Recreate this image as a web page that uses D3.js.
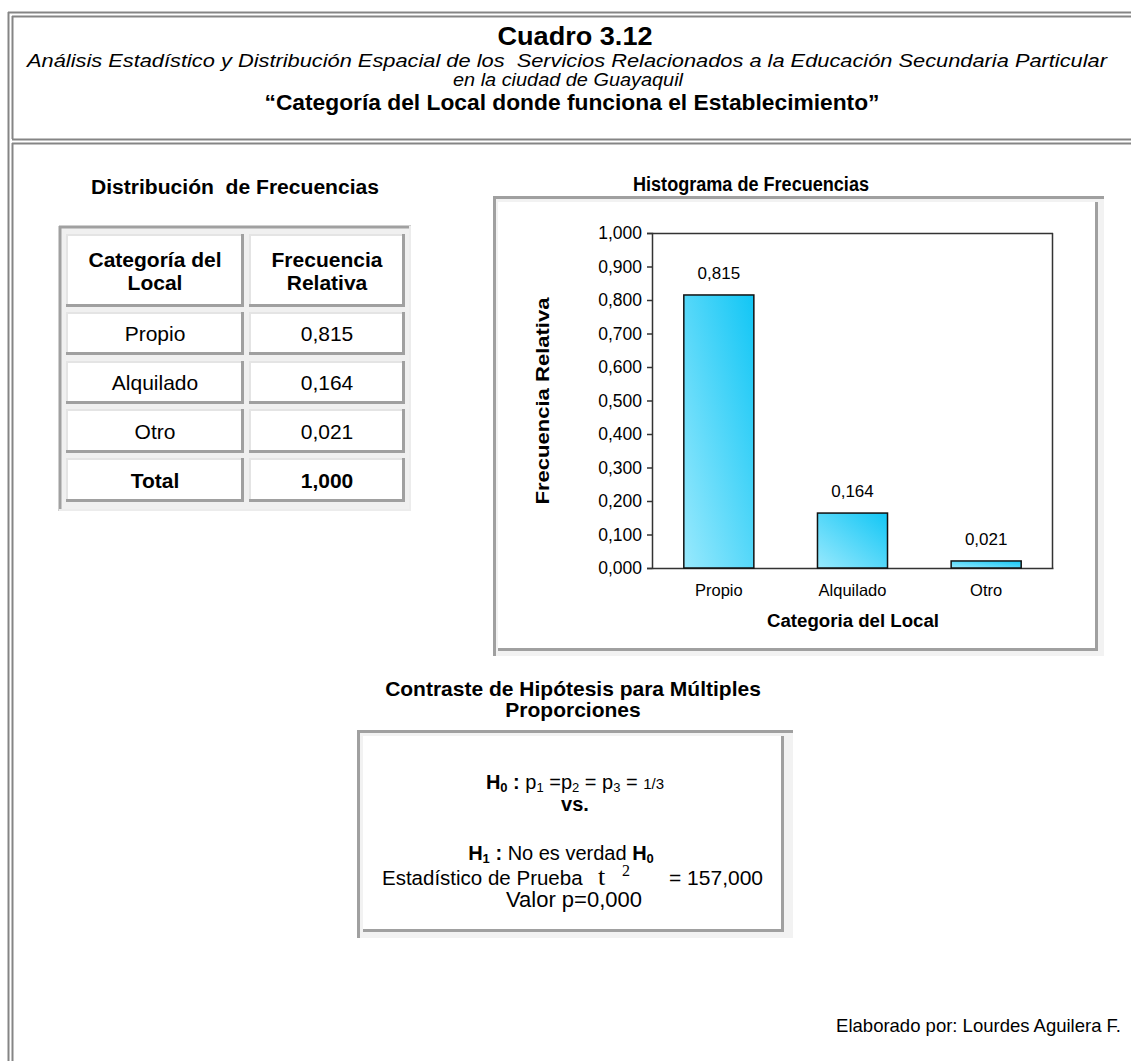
<!DOCTYPE html>
<html><head><meta charset="utf-8">
<script src="https://cdn.jsdelivr.net/npm/d3@7"></script>
<style>body{margin:0;background:#fff}svg{display:block;font-family:"Liberation Sans",Arial,sans-serif}text{white-space:pre}</style>
</head><body>
<svg id="c" width="1131" height="1061"></svg>
<script>
const categories = ["Propio", "Alquilado", "Otro"];
const values = [0.815, 0.164, 0.021];
const totalLabel = "Total";
const totalValue = 1.000;
const yTicks = [0, 0.1, 0.2, 0.3, 0.4, 0.5, 0.6, 0.7, 0.8, 0.9, 1.0];
const tableHeader = [["Categoría del", "Local"], ["Frecuencia", "Relativa"]];

const fmt = v => d3.format(".3f")(v).replace(".", ",");
const svg = d3.select("#c");
const GR = "#858585";

function line(x1,y1,x2,y2,c,w){svg.append("line").attr("x1",x1).attr("y1",y1).attr("x2",x2).attr("y2",y2).attr("stroke",c).attr("stroke-width",w);}
line(8.5,12,8.5,1061,GR,2);
line(8,12.5,1131,12.5,GR,2);
line(12.5,16,12.5,139,GR,2);
line(12,16.5,1131,16.5,GR,2);
line(12,139.5,1131,139.5,GR,2);
line(12,143.5,1131,143.5,GR,2);
line(12.5,143,12.5,1061,GR,2);

function txt(x,y,s,opt={}){
  const t = svg.append("text").attr("x",x).attr("y",y).attr("text-anchor",opt.anchor||"middle")
    .attr("font-size",opt.size||15).attr("font-weight",opt.bold?"bold":"normal")
    .attr("font-style",opt.italic?"italic":"normal").attr("fill",opt.fill||"#000").text(s);
  if(opt.len){t.attr("textLength",opt.len).attr("lengthAdjust","spacingAndGlyphs");}
  if(opt.family) t.attr("font-family",opt.family);
  return t;
}
// header
txt(575,45,"Cuadro 3.12",{size:26,bold:true,len:155});
txt(567,67,"Análisis Estadístico y Distribución Espacial de los  Servicios Relacionados a la Educación Secundaria Particular",{size:18,italic:true,len:1080});
txt(568,86,"en la ciudad de Guayaquil",{size:18,italic:true,len:230});
txt(572,110,"“Categoría del Local donde funciona el Establecimiento”",{size:22,bold:true,len:615});

// table
txt(235,194,"Distribución  de Frecuencias",{size:20,bold:true,len:288});
const tbl = svg.append("g");
tbl.append("rect").attr("x",59).attr("y",226).attr("width",352).attr("height",285).attr("fill","#f0f0f0");
line(60,226,60,511,"#a0a0a0",3);
line(59,227,411,227,"#a0a0a0",3);
line(410,226,410,511,"#ececec",2);
line(59,510,411,510,"#ececec",2);
const colX = [[66,244],[249,405]];
const rowY = [[234,307],[312,355],[361,404],[409,453],[458,502]];
function cell(x0,x1,y0,y1){
  tbl.append("rect").attr("x",x0).attr("y",y0).attr("width",x1-x0).attr("height",y1-y0).attr("fill","#fff");
  line(x0,y0+1,x1,y0+1,"#e4e4e4",2);
  line(x0+1,y0,x0+1,y1,"#e4e4e4",2);
  line(x0,y1-1.5,x1,y1-1.5,"#a0a0a0",3);
  line(x1-1.5,y0,x1-1.5,y1,"#a0a0a0",3);
}
rowY.forEach(r=>colX.forEach(c=>cell(c[0],c[1],r[0],r[1])));
tableHeader.forEach((lines,i)=>{
  const cx=(colX[i][0]+colX[i][1])/2;
  txt(cx,267,lines[0],{size:21,bold:true});
  txt(cx,290,lines[1],{size:21,bold:true});
});
categories.forEach((c,i)=>{
  const r=rowY[i+1], my=(r[0]+r[1])/2+7.5;
  txt((colX[0][0]+colX[0][1])/2,my,c,{size:21});
  txt((colX[1][0]+colX[1][1])/2,my,fmt(values[i]),{size:21});
});
{
  const r=rowY[4], my=(r[0]+r[1])/2+7.5;
  txt((colX[0][0]+colX[0][1])/2,my,totalLabel,{size:21,bold:true});
  txt((colX[1][0]+colX[1][1])/2,my,fmt(totalValue),{size:21,bold:true});
}

// histogram
txt(751,191,"Histograma de Frecuencias",{size:20,bold:true,len:236});
const ch = svg.append("g");
ch.append("rect").attr("x",493).attr("y",196).attr("width",611).attr("height",460).attr("fill","#f2f2f2");
line(494.5,196,494.5,656,"#a0a0a0",3);
line(493,197.5,1104,197.5,"#a0a0a0",3);
ch.append("rect").attr("x",498).attr("y",202).attr("width",600).attr("height",449).attr("fill","#fff");
line(1096.5,202,1096.5,651,"#a0a0a0",3);
line(498,649.5,1098,649.5,"#a0a0a0",3);

const defs = svg.append("defs");
const gr = defs.append("linearGradient").attr("id","bg").attr("x1",0).attr("y1",1).attr("x2",1).attr("y2",0);
gr.append("stop").attr("offset","0%").attr("stop-color","#98e9fd");
gr.append("stop").attr("offset","100%").attr("stop-color","#12c6f5");

const px0=652, px1=1053, py0=568, py1=233;
const x = d3.scaleBand().domain(categories).range([px0,px1]).paddingInner(0.476).paddingOuter(0.238);
const y = d3.scaleLinear().domain([0,1]).range([py0,py1]);

const plot = svg.append("g");
plot.append("line").attr("x1",px0).attr("x2",px1).attr("y1",py1+0.5).attr("y2",py1+0.5).attr("stroke","#333").attr("stroke-width",1.5);
plot.append("line").attr("x1",px1-0.5).attr("x2",px1-0.5).attr("y1",py1).attr("y2",py0).attr("stroke","#333").attr("stroke-width",1.5);

const yAxis = plot.append("g").attr("transform",`translate(${px0},0)`)
  .call(d3.axisLeft(y).tickValues(yTicks).tickFormat(fmt).tickSize(5).tickPadding(5));
yAxis.select(".domain").attr("stroke","#333").attr("stroke-width",1.5);
yAxis.selectAll(".tick line").attr("stroke","#333").attr("stroke-width",1.5);
yAxis.selectAll("text").attr("font-size",17.5).attr("font-family","Liberation Sans, Arial, sans-serif").attr("fill","#000");

const xAxis = plot.append("g").attr("transform",`translate(0,${py0})`)
  .call(d3.axisBottom(x).tickSize(0).tickPadding(16));
xAxis.select(".domain").attr("stroke","#333").attr("stroke-width",1.5);
xAxis.selectAll("text").attr("font-size",16.5).attr("font-family","Liberation Sans, Arial, sans-serif").attr("fill","#000");

plot.selectAll("rect.bar").data(values).join("rect").attr("class","bar")
  .attr("x",(d,i)=>x(categories[i])).attr("width",x.bandwidth())
  .attr("y",d=>y(d)).attr("height",d=>py0-y(d))
  .attr("fill","url(#bg)").attr("stroke","#111").attr("stroke-width",1.5);
plot.selectAll("text.vl").data(values).join("text").attr("class","vl")
  .attr("x",(d,i)=>x(categories[i])+x.bandwidth()/2).attr("y",d=>y(d)-16)
  .attr("text-anchor","middle").attr("font-size",17).text(fmt);

txt(853,627,"Categoria del Local",{size:18,bold:true,len:172});
txt(0,0,"Frecuencia Relativa",{size:18,bold:true,len:207}).attr("transform","translate(549,401) rotate(-90)");

// hypothesis box
txt(573,696,"Contraste de Hipótesis para Múltiples",{size:21,bold:true});
txt(573,717,"Proporciones",{size:21,bold:true});
const hb = svg.append("g");
hb.append("rect").attr("x",357).attr("y",730).attr("width",436).attr("height",208).attr("fill","#f2f2f2");
line(358.5,730,358.5,938,"#a0a0a0",3);
line(357,731.5,793,731.5,"#a0a0a0",3);
hb.append("rect").attr("x",363).attr("y",736).attr("width",421).attr("height",196).attr("fill","#fff");
line(782.5,736,782.5,932,"#a0a0a0",3);
line(363,930.5,784,930.5,"#a0a0a0",3);

function rich(cx,y,parts,anchor){
  const t = svg.append("text").attr("x",cx).attr("y",y).attr("text-anchor",anchor||"middle").attr("font-size",20);
  parts.forEach(p=>{
    const s=t.append("tspan").text(p.t);
    if(p.b) s.attr("font-weight","bold");
    if(p.s) s.attr("font-size",p.s);
    if(p.dy) s.attr("dy",p.dy);
    if(p.x) s.attr("x",p.x);
    if(p.f) s.attr("font-family",p.f);
  });
  return t;
}
rich(575,789,[{t:"H",b:1},{t:"0",b:1,s:13,dy:3},{t:" : ",b:1,dy:-3},{t:"p"},{t:"1",s:13,dy:3},{t:" =p",dy:-3},{t:"2",s:13,dy:3},{t:" = p",dy:-3},{t:"3",s:13,dy:3},{t:" = ",dy:-3},{t:"1/3",s:15}]);
rich(575,811,[{t:"vs.",b:1}]);
rich(561,860,[{t:"H",b:1},{t:"1",b:1,s:13,dy:3},{t:" : ",b:1,dy:-3},{t:"No es verdad "},{t:"H",b:1},{t:"0",b:1,s:13,dy:3}]);
rich(382,885,[{t:"Estadístico de Prueba",s:20.5},{t:"t",s:26,x:598,f:"Liberation Serif, serif"},{t:"2",s:16,x:622,dy:-9,f:"Liberation Serif, serif"},{t:"= 157,000",s:21,x:669,dy:9}],"start");
rich(574,907,[{t:"Valor p=0,000",s:22}]);

// footer
txt(1121,1032,"Elaborado por: Lourdes Aguilera F.",{size:18.5,anchor:"end"});
</script>
</body></html>
